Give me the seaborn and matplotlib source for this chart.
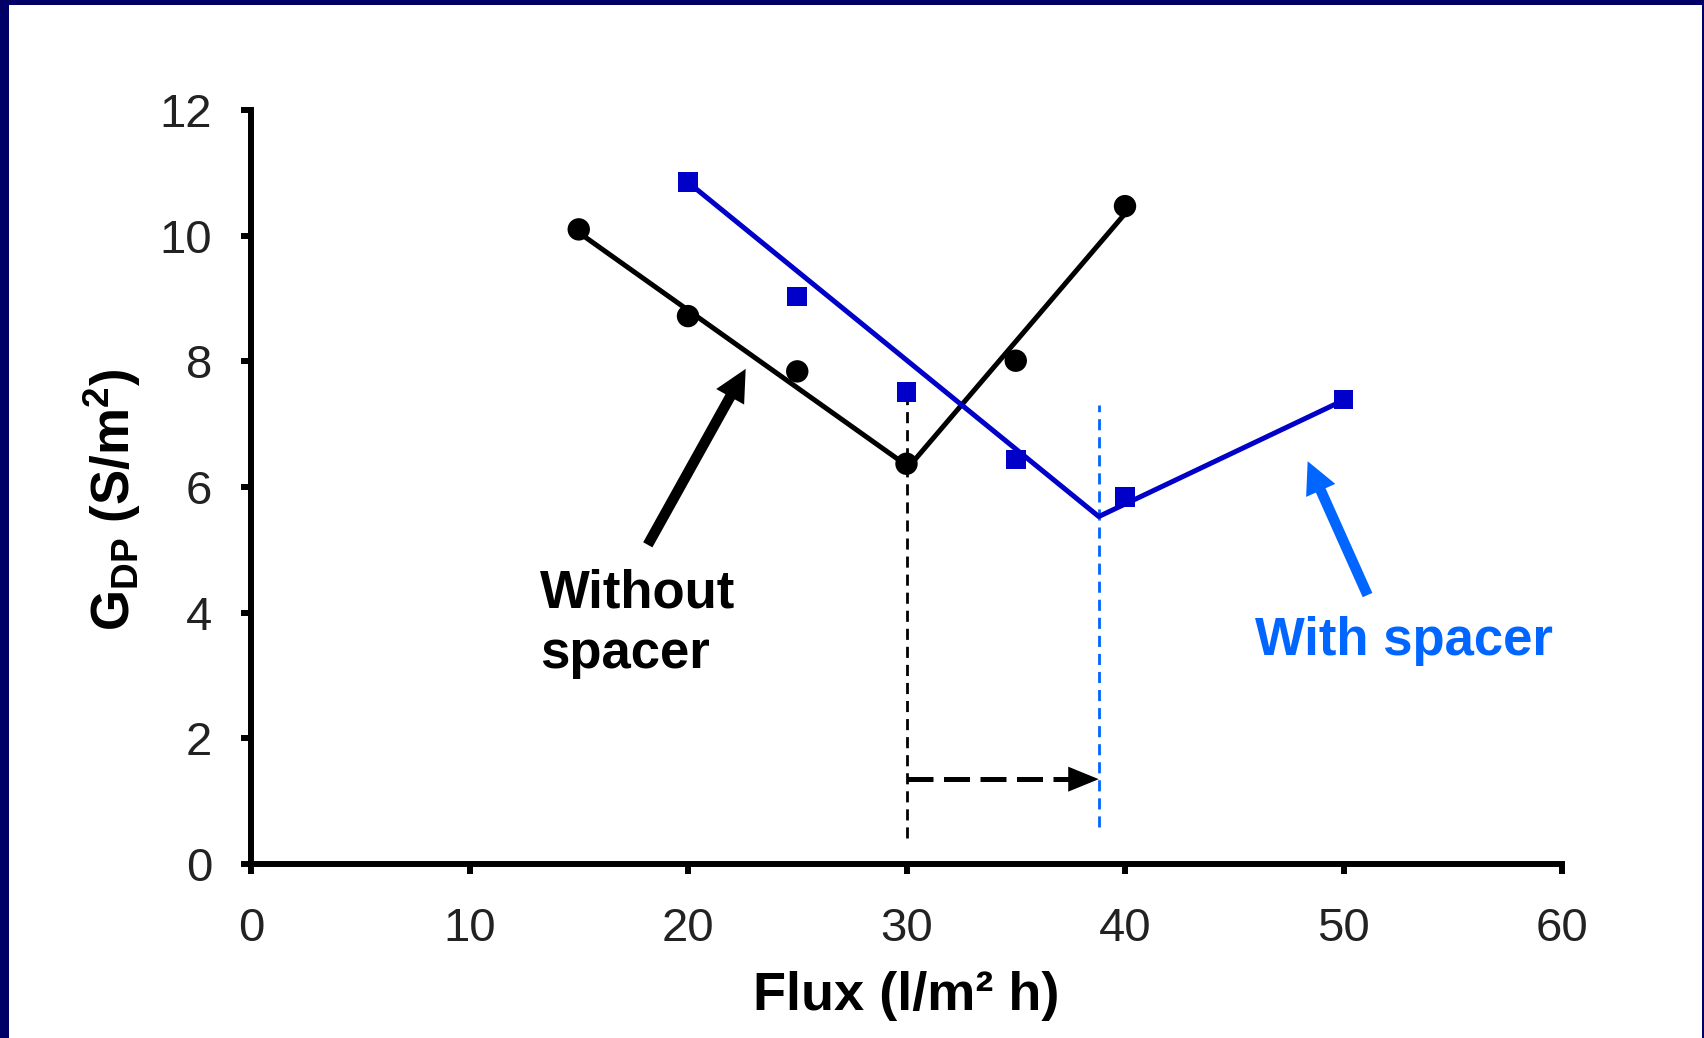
import matplotlib
matplotlib.use("Agg")
import matplotlib.pyplot as plt
from matplotlib.patches import Rectangle
import pandas as pd
import seaborn as sns

# Measured conductance gradient vs. flux
flux_without = [15, 20, 25, 30, 35, 40]
gdp_without = [10.1, 8.72, 7.84, 6.37, 8.01, 10.47]
flux_with = [20, 25, 30, 35, 40, 50]
gdp_with = [10.85, 9.03, 7.51, 6.44, 5.84, 7.39]

# Two-segment trend lines (start, break point, end)
trend_without_x = [15, 30.1, 40]
trend_without_y = [10.05, 6.32, 10.35]
trend_with_x = [20, 38.8, 50]
trend_with_y = [10.85, 5.53, 7.38]

# Critical flux of each configuration
crit_without = 30
crit_with = 38.8

x_ticks = [0, 10, 20, 30, 40, 50, 60]
y_ticks = [0, 2, 4, 6, 8, 10, 12]

sns.set_style("ticks")
plt.rcParams["font.family"] = ["Liberation Sans", "DejaVu Sans"]
plt.rcParams["mathtext.fontset"] = "custom"
plt.rcParams["mathtext.bf"] = "Liberation Sans:bold"
plt.rcParams["mathtext.rm"] = "Liberation Sans:bold"

BLACK = "#000000"
DARK_BLUE = "#0000c8"
BRIGHT_BLUE = "#0066ff"
NAVY = "#000066"

W, H = 1704, 1038
fig = plt.figure(figsize=(W / 100, H / 100), dpi=100)
fig.patch.set_facecolor(NAVY)
fig.add_artist(Rectangle((9 / W, 0), (1702 - 9) / W, (H - 5) / H,
                         transform=fig.transFigure, facecolor="white",
                         edgecolor="none", zorder=-1))

ax_l, ax_r, ax_t, ax_b = 251, 1562, 110, 864
ax = fig.add_axes([ax_l / W, 1 - ax_b / H, (ax_r - ax_l) / W, (ax_b - ax_t) / H])
ax.set_facecolor("none")

df_wo = pd.DataFrame({"flux": flux_without, "gdp": gdp_without})
df_w = pd.DataFrame({"flux": flux_with, "gdp": gdp_with})
tr_wo = pd.DataFrame({"flux": trend_without_x, "gdp": trend_without_y})
tr_w = pd.DataFrame({"flux": trend_with_x, "gdp": trend_with_y})

sns.lineplot(data=tr_wo, x="flux", y="gdp", color=BLACK, linewidth=3.6, ax=ax, zorder=3)
sns.lineplot(data=tr_w, x="flux", y="gdp", color=DARK_BLUE, linewidth=3.6, ax=ax, zorder=3)
for ln in ax.get_lines():
    ln.set_linewidth(3.6)
    ln.set_solid_capstyle("round")
    ln.set_solid_joinstyle("round")
sns.scatterplot(data=df_wo, x="flux", y="gdp", color=BLACK, marker="o", s=260,
                edgecolor="none", ax=ax, zorder=4)
sns.scatterplot(data=df_w, x="flux", y="gdp", color=DARK_BLUE, marker="s", s=200,
                edgecolor="none", ax=ax, zorder=4)

# Critical flux markers
ax.plot([crit_without, crit_without], [0.41, 7.45], color=BLACK, lw=2.0,
        dashes=(4, 2.5), zorder=2)
ax.plot([crit_with, crit_with], [0.59, 7.3], color=BRIGHT_BLUE, lw=2.0,
        dashes=(4, 2.5), zorder=2)

# Shift of the critical flux
shift_y = 1.35
ax.plot([crit_without, crit_with - 1.0], [shift_y, shift_y], color=BLACK, lw=3.6,
        dashes=(5.2, 2.1), zorder=2)
ax.annotate("", xy=(crit_with, shift_y), xytext=(crit_with - 1.05, shift_y),
            arrowprops=dict(arrowstyle="simple,head_length=1.1,head_width=0.9,tail_width=0.2",
                            mutation_scale=20, color=BLACK, lw=0, shrinkA=0, shrinkB=0))

# Pointer arrows and series labels
ax.annotate("", xy=(22.64, 7.88), xytext=(18.16, 5.08),
            arrowprops=dict(arrowstyle="simple,head_length=1.15,head_width=1.15,tail_width=0.38",
                            mutation_scale=20, color=BLACK, lw=0, shrinkA=0, shrinkB=0))
ax.annotate("", xy=(48.36, 6.41), xytext=(51.1, 4.28),
            arrowprops=dict(arrowstyle="simple,head_length=1.15,head_width=1.15,tail_width=0.38",
                            mutation_scale=20, color=BRIGHT_BLUE, lw=0, shrinkA=0, shrinkB=0))

ax.text(13.23, 4.08, "Without", fontsize=38, fontweight="bold", color=BLACK,
        ha="left", va="baseline")
ax.text(13.23, 3.12, "spacer", fontsize=38, fontweight="bold", color=BLACK,
        ha="left", va="baseline")
ax.text(45.97, 3.33, "With spacer", fontsize=38, fontweight="bold", color=BRIGHT_BLUE,
        ha="left", va="baseline")

# Axes styling
ax.set_xlim(0, 60)
ax.set_ylim(0, 12)
ax.set_xticks(x_ticks)
ax.set_yticks(y_ticks)
ax.set_xticklabels([str(v) for v in x_ticks])
ax.set_yticklabels([str(v) for v in y_ticks])
for side in ("top", "right"):
    ax.spines[side].set_visible(False)
for side in ("left", "bottom"):
    ax.spines[side].set_linewidth(4.3)
    ax.spines[side].set_color(BLACK)
    ax.spines[side].set_capstyle("projecting")
ax.tick_params(axis="both", direction="out", length=7, width=4.3, color=BLACK,
               labelsize=34, labelcolor="#222222")
ax.tick_params(axis="x", pad=24)
ax.tick_params(axis="y", pad=21)

ax.set_xlabel("Flux (l/m² h)", fontsize=39, fontweight="bold", color=BLACK, va="center")
ax.xaxis.set_label_coords(0.5, -(996 - ax_b) / (ax_b - ax_t))
ax.set_ylabel(r"$\mathbf{G_{DP}}$ (S/m$^{\mathbf{2}}$)", fontsize=38, fontweight="bold",
              color=BLACK, va="center")
ax.yaxis.set_label_coords(-(ax_l - 112) / (ax_r - ax_l), (ax_b - 500) / (ax_b - ax_t))

for t in ax.get_xticklines() + ax.get_yticklines():
    t.set_clip_on(False)

fig.savefig("out.png", dpi=100, facecolor=fig.get_facecolor())
